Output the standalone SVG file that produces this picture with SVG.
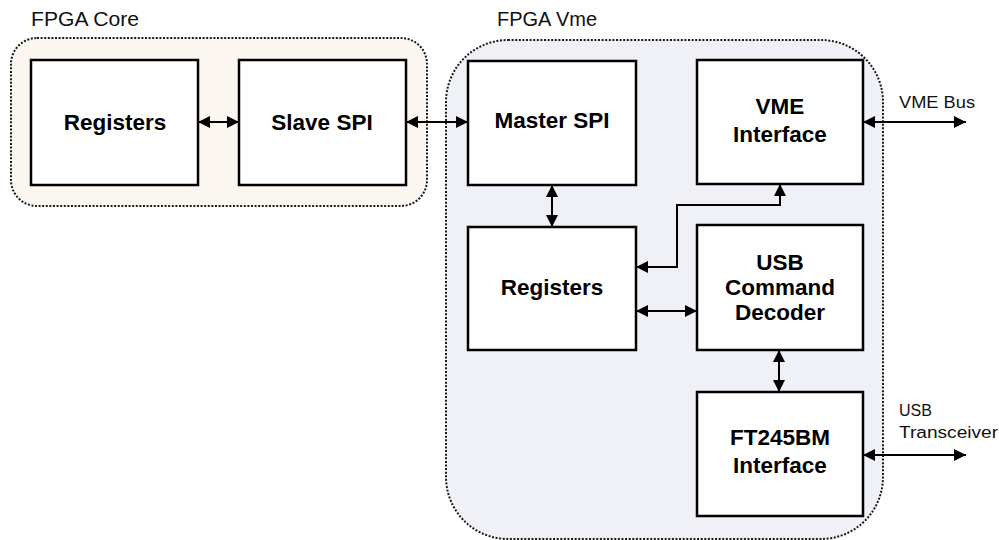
<svg xmlns="http://www.w3.org/2000/svg" width="999" height="540" viewBox="0 0 999 540">
  <style>
    .box { fill: #ffffff; stroke: #000000; stroke-width: 2.5; }
    .zone { stroke: #1a1a1a; stroke-width: 2; stroke-dasharray: 2 1.6; }
    .title { font-family: "Liberation Sans", Arial, sans-serif; font-size: 20px; fill: #111; }
    .ext { font-family: "Liberation Sans", Arial, sans-serif; font-size: 16px; fill: #111; }
    .lbl { font-family: "Liberation Sans", Arial, sans-serif; font-size: 22.5px; font-weight: bold; fill: #000; text-anchor: middle; }
    .wire { fill: none; stroke: #000; stroke-width: 2; marker-start: url(#head); marker-end: url(#head); }
  </style>
  <defs>
    <marker id="head" viewBox="0 0 12 12" refX="12" refY="6" markerWidth="12" markerHeight="12" markerUnits="userSpaceOnUse" orient="auto-start-reverse">
      <path d="M0,0 L12,6 L0,12 Z" fill="#000"/>
    </marker>
  </defs>

  <!-- FPGA Core zone -->
  <g id="fpga-core">
    <rect class="zone" x="11" y="38" width="416" height="168" rx="26" ry="26" fill="#fcf6f0"/>
    <text class="title" x="31" y="26" textLength="108" lengthAdjust="spacingAndGlyphs">FPGA Core</text>
  </g>

  <!-- FPGA Vme zone -->
  <g id="fpga-vme">
    <rect class="zone" x="446" y="40" width="437" height="499" rx="62" ry="62" fill="#eff1f6"/>
    <text class="title" x="497" y="26" textLength="100" lengthAdjust="spacingAndGlyphs">FPGA Vme</text>
  </g>

  <g id="core-registers">
    <rect class="box" x="31" y="60" width="167" height="125"/>
    <text class="lbl" x="115" y="130">Registers</text>
  </g>

  <g id="slave-spi">
    <rect class="box" x="239" y="60" width="167" height="125"/>
    <text class="lbl" x="322" y="130">Slave SPI</text>
  </g>

  <g id="master-spi">
    <rect class="box" x="468" y="61" width="168" height="124"/>
    <text class="lbl" x="552" y="128">Master SPI</text>
  </g>

  <g id="vme-interface">
    <rect class="box" x="697" y="60" width="166" height="124"/>
    <text class="lbl" x="780" y="114">VME</text>
    <text class="lbl" x="780" y="142">Interface</text>
  </g>

  <g id="vme-registers">
    <rect class="box" x="468" y="227" width="168" height="123"/>
    <text class="lbl" x="552" y="295">Registers</text>
  </g>

  <g id="usb-command-decoder">
    <rect class="box" x="697" y="225" width="166" height="125"/>
    <text class="lbl" x="780" y="270">USB</text>
    <text class="lbl" x="780" y="295">Command</text>
    <text class="lbl" x="780" y="320">Decoder</text>
  </g>

  <g id="ft245bm-interface">
    <rect class="box" x="697" y="392" width="166" height="124"/>
    <text class="lbl" x="780" y="445">FT245BM</text>
    <text class="lbl" x="780" y="473">Interface</text>
  </g>

  <!-- external interface labels -->
  <g id="vme-bus">
    <text class="ext" x="899" y="108" textLength="76" lengthAdjust="spacingAndGlyphs">VME Bus</text>
  </g>
  <g id="usb-transceiver">
    <text class="ext" x="899" y="416" textLength="33" lengthAdjust="spacingAndGlyphs">USB</text>
    <text class="ext" x="899" y="438" textLength="99" lengthAdjust="spacingAndGlyphs">Transceiver</text>
  </g>

  <!-- connectors -->
  <g id="connectors">
    <path class="wire" d="M198,122 H239"/>
    <path class="wire" d="M406,122 H468"/>
    <path class="wire" d="M552,185 V227"/>
    <path class="wire" d="M780,184 V205 H677 V267 H636"/>
    <path class="wire" d="M636,311 H697"/>
    <path class="wire" d="M779,350 V392"/>
    <path class="wire" d="M863,122 H966"/>
    <path class="wire" d="M863,455 H966"/>
  </g>
</svg>
